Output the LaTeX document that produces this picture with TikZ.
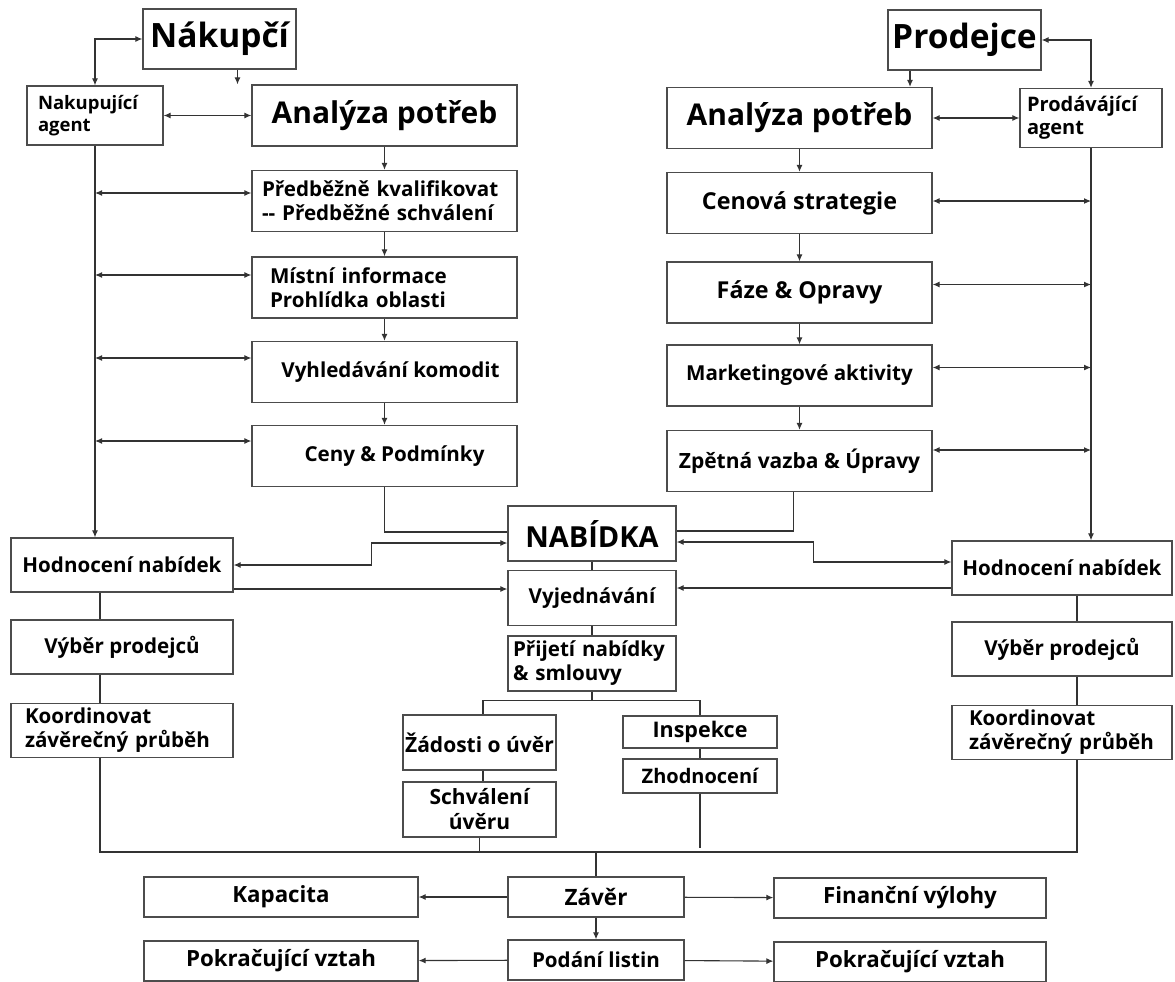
\documentclass[tikz,border=0pt]{standalone}
\usepackage{fontspec}
\setmainfont{Open Sans}
\usetikzlibrary{arrows.meta}

\begin{document}
\begin{tikzpicture}
        [x=1pt, y=-1pt,
        box/.style={draw=black!70, line width=1.3pt, inner sep=0pt, align=center, font=\fontsize{20.6}{24}\selectfont\bfseries},
        wide/.style={box, minimum width=265pt, minimum height=61pt},
        side/.style={box, minimum width=222pt, minimum height=54pt},
        mid/.style={box, minimum width=168pt, minimum height=55pt},
        low/.style={box, minimum width=274pt, minimum height=40pt, font=\fontsize{22.3}{26}\selectfont\bfseries},
        title/.style={box, minimum width=153pt, minimum height=60pt, font=\fontsize{33.5}{38}\selectfont\bfseries},
        agentbox/.style={box, minimum height=59pt, font=\fontsize{18.5}{22}\selectfont\bfseries, align=left},
        link/.style={draw=black!80, line width=1.1pt},
        arr/.style={link, -{Latex[length=7pt, width=6pt]}},
        dbl/.style={link, {Latex[length=7pt, width=6pt]}-{Latex[length=7pt, width=6pt]}}]

        \useasboundingbox (0,0) rectangle (1175,982);

        % buyer side
        \node[title] (nakupci) at (219.5,39) {Nákupčí};
        \node[agentbox, minimum width=136pt, text width=114pt] (nakagent) at (95,115.5) {\mbox{Nakupující}\\agent};
        \node[wide, font=\fontsize{30}{34}\selectfont\bfseries] (anaL) at (384.5,115.5) {Analýza potřeb};
        \node[wide, text width=245pt, align=left] (predL) at (384.5,201) {\mbox{Předběžně kvalifikovat}\\\mbox{-{}- Předběžné schválení}};
        \node[wide, text width=229pt, align=left] (mistni) at (384.5,287.5) {\mbox{Místní informace}\\\mbox{Prohlídka oblasti}};
        \node[wide] (vyhled) at (384.5,372) {\hspace{12pt}Vyhledávání komodit};
        \node[wide] (ceny) at (384.5,456) {\hspace{20pt}Ceny \& Podmínky};

        % seller side
        \node[title] (prodejce) at (964.5,40) {Prodejce};
        \node[agentbox, minimum width=142pt, text width=128pt, font=\fontsize{20}{23}\selectfont\bfseries] (prodagent) at (1091,118) {\mbox{Prodávájící}\\agent};
        \node[wide, font=\fontsize{30}{34}\selectfont\bfseries] (anaR) at (799.5,118) {Analýza potřeb};
        \node[wide, font=\fontsize{23.3}{27}\selectfont\bfseries] (cenova) at (799.5,203) {Cenová strategie};
        \node[wide, font=\fontsize{23.3}{27}\selectfont\bfseries] (faze) at (799.5,292.5) {Fáze \& Opravy};
        \node[wide] (market) at (799.5,375.5) {Marketingové aktivity};
        \node[wide, font=\fontsize{21}{24}\selectfont\bfseries] (zpetna) at (799.5,461) {Zpětná vazba \& Úpravy};

        % middle
        \node[mid, font=\fontsize{29}{33}\selectfont\bfseries] (nabidka) at (592,533.5) {NABÍDKA};
        \node[mid] (vyjed) at (592,598) {Vyjednávání};
        \node[mid, text width=158pt, align=left] (prijeti) at (592,663.5) {\mbox{Přijetí nabídky}\\\mbox{\& smlouvy}};
        \node[box, minimum width=153pt, minimum height=55pt, font=\fontsize{21}{24}\selectfont\bfseries] (zadosti) at (479.5,742.5) {Žádosti o úvěr};
        \node[box, minimum width=153pt, minimum height=55pt, font=\fontsize{21}{25}\selectfont\bfseries] (schval) at (479.5,809.5) {Schválení\\úvěru};
        \node[box, minimum width=154pt, minimum height=32pt, font=\fontsize{21.5}{24}\selectfont\bfseries] (inspekce) at (700,732) {Inspekce};
        \node[box, minimum width=154pt, minimum height=34pt, font=\fontsize{20}{24}\selectfont\bfseries] (zhodn) at (700,776) {Zhodnocení};

        \node[side] (hodnL) at (122,565) {Hodnocení nabídek};
        \node[side] (vyberL) at (122,647) {Výběr prodejců};
        \node[side, text width=194pt, align=left] (koordL) at (122,730.5) {\mbox{Koordinovat}\\\mbox{závěrečný průběh}};
        \node[side, minimum width=220pt] (hodnR) at (1062,568) {Hodnocení nabídek};
        \node[side, minimum width=220pt] (vyberR) at (1062,649) {Výběr prodejců};
        \node[side, minimum width=220pt, text width=186pt, align=left] (koordR) at (1062,732.5) {\mbox{Koordinovat}\\\mbox{závěrečný průběh}};

        % closing
        \node[mid, minimum width=176pt, minimum height=40pt, font=\fontsize{22.5}{26}\selectfont\bfseries] (zaver) at (596,897) {Závěr};
        \node[low] (kapacita) at (281,897) {Kapacita};
        \node[low, minimum width=272pt] (financni) at (910,898) {Finanční výlohy};
        \node[mid, minimum width=176pt, minimum height=40pt] (podani) at (596,960) {Podání listin};
        \node[low] (pokrL) at (281,961) {Pokračující vztah};
        \node[low, minimum width=272pt] (pokrR) at (910,962) {Pokračující vztah};

        \coordinate (bus) at (596,852);

        % buyer connectors
        \draw[dbl] (nakupci.west) -| (nakagent.north);
        \draw[arr] ([xshift=18pt]nakupci.south) -- ([xshift=18pt]nakupci.south |- anaL.north);
        \draw[dbl] (nakagent.east) -- (anaL.west);
        \draw[arr] (nakagent.south) -- (nakagent.south |- hodnL.north);
        \draw[arr] (anaL) -- (predL);
        \draw[arr] (predL) -- (mistni);
        \draw[arr] (mistni) -- (vyhled);
        \draw[arr] (vyhled) -- (ceny);
        \draw[dbl] (nakagent.south |- predL.west) ++(0,-8) -- ([yshift=8pt]predL.west);
        \draw[dbl] (nakagent.south |- mistni.west) ++(0,-12.5) -- ([yshift=12.5pt]mistni.west);
        \draw[dbl] (nakagent.south |- vyhled.west) ++(0,-14) -- ([yshift=14pt]vyhled.west);
        \draw[dbl] (nakagent.south |- ceny.west) ++(0,-15) -- ([yshift=15pt]ceny.west);
        \draw[link] (ceny.south) |- ([yshift=1.5pt]nabidka.west);

        % seller connectors
        \draw[dbl] (prodejce.east) -| (prodagent.north);
        \draw[arr] ([xshift=-54.5pt]prodejce.south) -- ([xshift=-54.5pt]prodejce.south |- anaR.north);
        \draw[dbl] (anaR.east) -- (prodagent.west);
        \draw[arr] (prodagent.south) -- (prodagent.south |- hodnR.north);
        \draw[arr] (anaR) -- (cenova);
        \draw[arr] (cenova) -- (faze);
        \draw[arr] (faze) -- (market);
        \draw[arr] (market) -- (zpetna);
        \draw[dbl] ([yshift=2pt]cenova.east) -- ([yshift=2pt]cenova.east -| prodagent.south);
        \draw[dbl] ([yshift=8pt]faze.east) -- ([yshift=8pt]faze.east -| prodagent.south);
        \draw[dbl] ([yshift=8pt]market.east) -- ([yshift=8pt]market.east -| prodagent.south);
        \draw[dbl] ([yshift=11pt]zpetna.east) -- ([yshift=11pt]zpetna.east -| prodagent.south);
        \draw[link] ([xshift=-6pt]zpetna.south) |- ([yshift=2.5pt]nabidka.east);

        % offer and negotiation
        \draw[dbl] (hodnL.east) -- ++(138,0) |- ([yshift=-9.5pt]nabidka.west);
        \draw[arr] ([yshift=-24pt]hodnL.east) -- ([yshift=9pt]vyjed.west);
        \draw[dbl] ([yshift=-8.5pt]nabidka.east) -- ++(137,0) |- ([yshift=6pt]hodnR.west);
        \draw[arr] ([yshift=-20pt]hodnR.west) -- ([yshift=10pt]vyjed.east);
        \draw[link] (nabidka) -- (vyjed);
        \draw[link] (vyjed) -- (prijeti);
        \draw[link] (prijeti.south) -- ++(0,9) -| ([xshift=3.5pt]zadosti.north);
        \draw[link] (prijeti.south) ++(0,9) -| (inspekce.north);
        \draw[link] ([xshift=3.5pt]zadosti.south) -- ([xshift=3.5pt]schval.north);
        \draw[link] (inspekce) -- (zhodn);

        \draw[link] ([xshift=-22pt]hodnL.south) -- ([xshift=-22pt]vyberL.north);
        \draw[link] ([xshift=-22pt]vyberL.south) -- ([xshift=-22pt]koordL.north);
        \draw[link] ([xshift=15pt]hodnR.south) -- ([xshift=15pt]vyberR.north);
        \draw[link] ([xshift=15pt]vyberR.south) -- ([xshift=15pt]koordR.north);

        % closing bus
        \draw[link] ([xshift=-22pt]koordL.south) |- (bus) -| ([xshift=15pt]koordR.south);
        \draw[link] (schval.south) -- (schval.south |- bus);
        \draw[link] (zhodn.south) -- ++(0,54);
        \draw[link] (bus) -- (zaver.north);
        \draw[arr] (zaver) -- (kapacita);
        \draw[arr] (zaver) -- (financni);
        \draw[arr] (zaver) -- (podani);
        \draw[arr] (podani) -- (pokrL);
        \draw[arr] (podani) -- (pokrR);
\end{tikzpicture}
\end{document}
